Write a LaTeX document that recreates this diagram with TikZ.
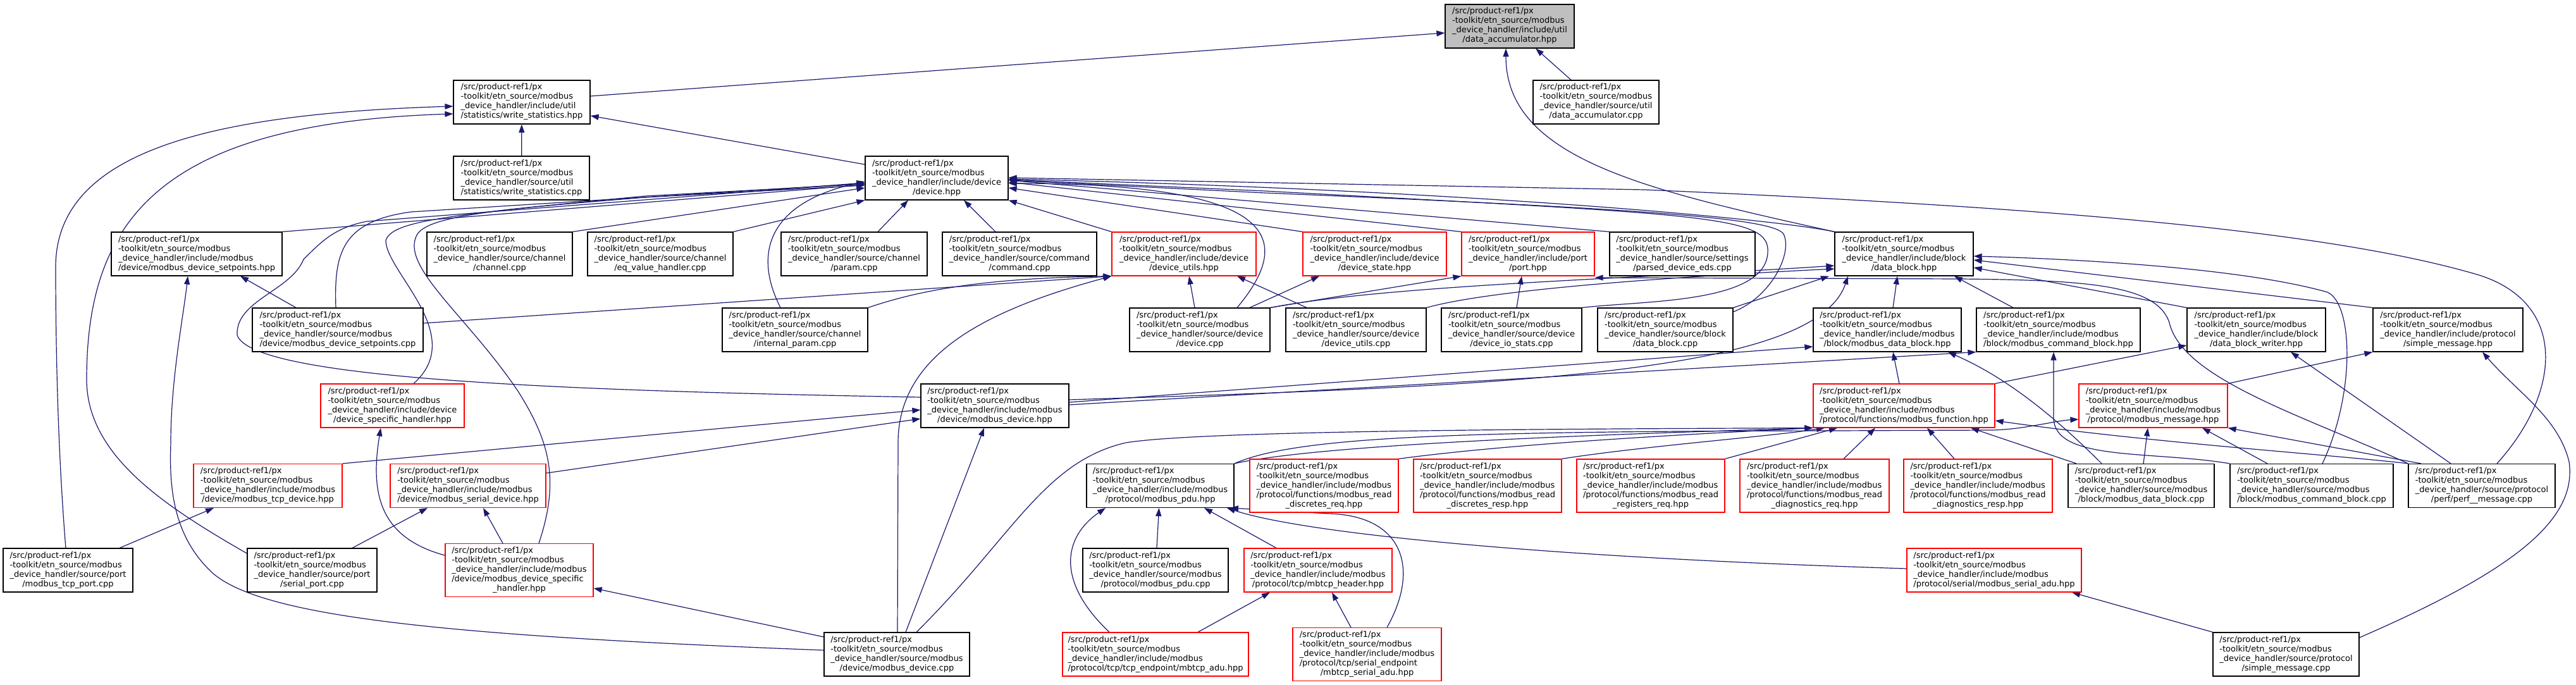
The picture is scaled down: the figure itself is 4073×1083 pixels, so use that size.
\documentclass[tikz,border=0pt]{standalone}
\usepackage{fontspec}
\newfontfamily\dvs{DejaVu Sans}
\usetikzlibrary{arrows.meta,calc}
\definecolor{edgeblue}{RGB}{25,25,112}
\definecolor{boxgray}{RGB}{191,191,191}
\pgfdeclarelayer{back}\pgfdeclarelayer{edges}
\pgfsetlayers{back,edges,main}
\newcommand\Hinc{\_device\_handler/include}
\newcommand\Hsrc{\_device\_handler/source}
\newcommand\Lf[2]{\begin{tabular}{@{}l@{}}/src/product-ref1/px\\-toolkit/etn\_source/modbus\\#1\\\multicolumn{1}{@{}c@{}}{#2}\end{tabular}}
\newcommand\Lv[3]{\begin{tabular}{@{}l@{}}/src/product-ref1/px\\-toolkit/etn\_source/modbus\\#1\\#2\\\multicolumn{1}{@{}c@{}}{#3}\end{tabular}}
\begin{document}
\begin{tikzpicture}[x=1pt,y=-1pt,
  box/.style={draw=black, fill=white, line width=1.2pt, inner sep=0pt, minimum height=69pt,
    font=\dvs\fontsize{13}{15}\selectfont, text=black},
  rbox/.style={box, draw=red},
  vbox/.style={rbox, minimum height=84pt},
  gbox/.style={box, fill=boxgray},
  edge/.style={draw=edgeblue, line width=1.2pt, -{Triangle[length=13pt,width=9pt]}}]
\begin{pgfonlayer}{back}
\fill[white] (0,0) rectangle (4073,1083);
\end{pgfonlayer}
\useasboundingbox (0,0) rectangle (4073,1083);
% row 1-3
\node[gbox, minimum width=204pt] (DA) at (2387,41.5) {\Lf{\Hinc/util}{/data\_accumulator.hpp}};
\node[box, minimum width=216pt] (WS) at (825,161.5) {\Lf{\Hinc/util}{/statistics/write\_statistics.hpp}};
\node[box, minimum width=199pt] (DAcpp) at (2523.5,161.5) {\Lf{\Hsrc/util}{/data\_accumulator.cpp}};
\node[box, minimum width=215pt] (WScpp) at (824.5,281.5) {\Lf{\Hsrc/util}{/statistics/write\_statistics.cpp}};
\node[box, minimum width=226pt] (DEV) at (1481,281.5) {\Lf{\Hinc/device}{/device.hpp}};
% row 4
\node[box, minimum width=270pt] (MDSP) at (311,401.5) {\Lf{\Hinc/modbus}{/device/modbus\_device\_setpoints.hpp}};
\node[box, minimum width=230pt] (CHAN) at (790,401.5) {\Lf{\Hsrc/channel}{/channel.cpp}};
\node[box, minimum width=230pt] (EQV) at (1044,401.5) {\Lf{\Hsrc/channel}{/eq\_value\_handler.cpp}};
\node[box, minimum width=231pt] (PARAM) at (1350.5,401.5) {\Lf{\Hsrc/channel}{/param.cpp}};
\node[box, minimum width=244pt] (CMD) at (1612,401.5) {\Lf{\Hsrc/command}{/command.cpp}};
\node[rbox, minimum width=228pt] (DUH) at (1872,401.5) {\Lf{\Hinc/device}{/device\_utils.hpp}};
\node[rbox, minimum width=227pt] (DSTATE) at (2173.5,401.5) {\Lf{\Hinc/device}{/device\_state.hpp}};
\node[rbox, minimum width=210pt] (PORT) at (2416,401.5) {\Lf{\Hinc/port}{/port.hpp}};
\node[box, minimum width=230pt] (PDE) at (2660,401.5) {\Lf{\Hsrc/settings}{/parsed\_device\_eds.cpp}};
\node[box, minimum width=219pt] (DB) at (3010.5,401.5) {\Lf{\Hinc/block}{/data\_block.hpp}};
% row 5
\node[box, minimum width=270pt] (MDSPcpp) at (534,521.5) {\Lf{\Hsrc/modbus}{/device/modbus\_device\_setpoints.cpp}};
\node[box, minimum width=230pt] (IPARAM) at (1257,521.5) {\Lf{\Hsrc/channel}{/internal\_param.cpp}};
\node[box, minimum width=222pt] (DEVcpp) at (1897,521.5) {\Lf{\Hsrc/device}{/device.cpp}};
\node[box, minimum width=222pt] (DUcpp) at (2144,521.5) {\Lf{\Hsrc/device}{/device\_utils.cpp}};
\node[box, minimum width=222pt] (DIOS) at (2390,521.5) {\Lf{\Hsrc/device}{/device\_io\_stats.cpp}};
\node[box, minimum width=214pt] (DBcpp) at (2633,521.5) {\Lf{\Hsrc/block}{/data\_block.cpp}};
\node[box, minimum width=234pt] (MDBH) at (2984,521.5) {\Lf{\Hinc/modbus}{/block/modbus\_data\_block.hpp}};
\node[box, minimum width=259pt] (MCBH) at (3254.5,521.5) {\Lf{\Hinc/modbus}{/block/modbus\_command\_block.hpp}};
\node[box, minimum width=219pt] (DBW) at (3567.5,521.5) {\Lf{\Hinc/block}{/data\_block\_writer.hpp}};
\node[box, minimum width=237pt] (SMH) at (3870.5,521.5) {\Lf{\Hinc/protocol}{/simple\_message.hpp}};
% row 6
\node[rbox, minimum width=227pt] (DSH) at (620.5,641.5) {\Lf{\Hinc/device}{/device\_specific\_handler.hpp}};
\node[box, minimum width=234pt] (MDEV) at (1573,641.5) {\Lf{\Hinc/modbus}{/device/modbus\_device.hpp}};
\node[rbox, minimum width=287pt] (MFUNC) at (3010.5,641.5) {\Lf{\Hinc/modbus}{/protocol/functions/modbus\_function.hpp}};
\node[rbox, minimum width=235pt] (MMSG) at (3404.5,641.5) {\Lf{\Hinc/modbus}{/protocol/modbus\_message.hpp}};
% row 7
\node[rbox, minimum width=235pt] (TCPD) at (423.5,768) {\Lf{\Hinc/modbus}{/device/modbus\_tcp\_device.hpp}};
\node[rbox, minimum width=246pt] (SERD) at (740,768) {\Lf{\Hinc/modbus}{/device/modbus\_serial\_device.hpp}};
\node[box, minimum width=233pt] (PDU) at (1834.5,768) {\Lf{\Hinc/modbus}{/protocol/modbus\_pdu.hpp}};
\node[vbox, minimum width=235pt] (RDREQ) at (2093.5,768) {\Lv{\Hinc/modbus}{/protocol/functions/modbus\_read}{\_discretes\_req.hpp}};
\node[vbox, minimum width=234pt] (RDRESP) at (2352,768) {\Lv{\Hinc/modbus}{/protocol/functions/modbus\_read}{\_discretes\_resp.hpp}};
\node[vbox, minimum width=234pt] (RRREQ) at (2610,768) {\Lv{\Hinc/modbus}{/protocol/functions/modbus\_read}{\_registers\_req.hpp}};
\node[vbox, minimum width=236pt] (RDGREQ) at (2869,768) {\Lv{\Hinc/modbus}{/protocol/functions/modbus\_read}{\_diagnostics\_req.hpp}};
\node[vbox, minimum width=235pt] (RDGRESP) at (3127.5,768) {\Lv{\Hinc/modbus}{/protocol/functions/modbus\_read}{\_diagnostics\_resp.hpp}};
\node[box, minimum width=231pt] (MDBcpp) at (3385.5,768) {\Lf{\Hsrc/modbus}{/block/modbus\_data\_block.cpp}};
\node[box, minimum width=258pt] (MCBcpp) at (3655,768) {\Lf{\Hsrc/modbus}{/block/modbus\_command\_block.cpp}};
\node[box, minimum width=232pt] (PERF) at (3924,768) {\Lf{\Hsrc/protocol}{/perf/perf\_\_message.cpp}};
% row 8
\node[box, minimum width=205pt] (TCPPORT) at (107.5,901.5) {\Lf{\Hsrc/port}{/modbus\_tcp\_port.cpp}};
\node[box, minimum width=205pt] (SERPORT) at (493.5,901.5) {\Lf{\Hsrc/port}{/serial\_port.cpp}};
\node[vbox, minimum width=234pt] (MDSHH) at (821,901.5) {\Lv{\Hinc/modbus}{/device/modbus\_device\_specific}{\_handler.hpp}};
\node[box, minimum width=230pt] (PDUcpp) at (1827,901.5) {\Lf{\Hsrc/modbus}{/protocol/modbus\_pdu.cpp}};
\node[rbox, minimum width=234pt] (TCPH) at (2084,901.5) {\Lf{\Hinc/modbus}{/protocol/tcp/mbtcp\_header.hpp}};
\node[rbox, minimum width=276pt] (SADU) at (3153,901.5) {\Lf{\Hinc/modbus}{/protocol/serial/modbus\_serial\_adu.hpp}};
% row 9
\node[box, minimum width=230pt] (MDEVcpp) at (1418,1034.5) {\Lf{\Hsrc/modbus}{/device/modbus\_device.cpp}};
\node[rbox, minimum width=294pt] (TCPADU) at (1827,1034.5) {\Lf{\Hinc/modbus}{/protocol/tcp/tcp\_endpoint/mbtcp\_adu.hpp}};
\node[vbox, minimum width=235pt] (SERADU) at (2161.5,1034.5) {\Lv{\Hinc/modbus}{/protocol/tcp/serial\_endpoint}{/mbtcp\_serial\_adu.hpp}};
\node[box, minimum width=231pt] (SMcpp) at (3614.5,1034.5) {\Lf{\Hsrc/protocol}{/simple\_message.cpp}};

\begin{pgfonlayer}{edges}
% to DA
\draw[edge] (WS.east |- 0,152) -- (DA.west |- 0,52);
\draw[edge] (DAcpp.north -| 2484,0) -- (DA.south -| 2428,0);
\draw[edge] (DB.north west) .. controls (2600,300) and (2381,250) .. (DA.south -| 2381,0);
% to WS
\draw[edge] (WScpp) -- (WS);
\draw[edge] (DEV.west |- 0,260) -- (WS.east |- 0,183);
\draw[edge] (TCPPORT.north -| 104,0) .. controls (92,720) and (88,560) .. (88,420) .. controls (90,240) and (330,180) .. (WS.west |- 0,168);
\draw[edge] (SERPORT.west |- 0,875) .. controls (260,800) and (137,720) .. (137,600) .. controls (137,350) and (250,195) .. (WS.west |- 0,180);
% to DEV
\draw[edge] (MDSP.north east) -- (DEV.west |- 0,292);
\draw[edge] (CHAN.north east) -- (DEV.west |- 0,297);
\draw[edge] (EQV.north east) -- (DEV.south west);
\draw[edge] (PARAM.north -| 1388,0) -- (DEV.south -| 1436,0);
\draw[edge] (CMD.north -| 1574,0) -- (DEV.south -| 1524,0);
\draw[edge] (DUH.north west) -- (DEV.south east);
\draw[edge] (DSTATE.north west) -- (DEV.east |- 0,297);
\draw[edge] (PORT.north west) -- (DEV.east |- 0,288);
\draw[edge] (PDE.north west) -- (DEV.east |- 0,285);
\draw[edge] (DB.north west) .. controls (2800,345) and (2300,300) .. (DEV.east |- 0,283);
\draw[edge] (PERF.north -| 3948,0) .. controls (4050,620) and (4060,480) .. (3920,435) .. controls (3700,370) and (3300,330) .. (2600,300) -- (DEV.east |- 0,281);
\draw[edge] (MDSPcpp.north -| 531,0) .. controls (528,400) and (540,350) .. (650,335) -- (DEV.west |- 0,290);
\draw[edge] (MDEV.west |- 0,628) .. controls (900,618) and (400,600) .. (375,530) .. controls (372,475) and (460,460) .. (480,410) .. controls (510,380) and (530,360) .. (580,350) -- (DEV.west |- 0,289);
\draw[edge] (DSH.north -| 654,0) .. controls (740,530) and (610,430) .. (610,380) .. controls (620,350) and (700,340) .. (1020,310) -- (DEV.west |- 0,291);
\draw[edge] (MDSHH.north -| 852,0) .. controls (885,760) and (870,700) .. (820,620) .. controls (740,500) and (630,420) .. (660,370) .. controls (680,340) and (800,330) .. (1020,312) -- (DEV.west |- 0,293);
\draw[edge] (IPARAM.north -| 1234,0) .. controls (1190,400) and (1215,320) .. (DEV.west |- 0,287);
\draw[edge] (DEVcpp.north -| 1956,0) .. controls (2045,380) and (2030,290) .. (DEV.east |- 0,290);
\draw[edge] (DIOS.north east) .. controls (2600,475) and (2790,480) .. (2795,400) .. controls (2800,340) and (2700,340) .. (2000,302) -- (DEV.east |- 0,284);
\draw[edge] (DBcpp.east |- 0,493) .. controls (2800,470) and (2835,400) .. (2820,370) .. controls (2805,345) and (2600,330) .. (2000,305) -- (DEV.east |- 0,285);
% to DUH, DSTATE, PORT
\draw[edge] (DUcpp.north -| 2066,0) -- (DUH.south -| 1956,0);
\draw[edge] (DEVcpp.north -| 1889,0) -- (DUH.south -| 1880,0);
\draw[edge] (MDSPcpp.east |- 0,511) -- (DUH.south west);
\draw[edge] (IPARAM.north east) .. controls (1450,460) and (1550,440) .. (DUH.south west);
\draw[edge] (MDEVcpp.north -| 1419,0) -- (1420,700) .. controls (1420,560) and (1560,490) .. (DUH.south west);
\draw[edge] (DEVcpp.north -| 1976,0) -- (DSTATE.south -| 2086,0);
\draw[edge] (DIOS.north -| 2398,0) -- (PORT.south -| 2406,0);
\draw[edge] (DEVcpp.north east) -- (PORT.south west);
\draw[edge] (PERF.north west) .. controls (3650,660) and (3450,600) .. (3430,510) .. controls (3410,450) and (3300,443) .. (3100,441) -- (PORT.east |- 0,439);
% to DB
\draw[edge] (DBcpp.north east) -- (DB.south -| 2892,0);
\draw[edge] (DUcpp.north east) .. controls (2350,460) and (2600,440) .. (DB.west |- 0,425);
\draw[edge] (DEVcpp.north east) .. controls (2200,450) and (2600,440) .. (DB.west |- 0,420);
\draw[edge] (MDBH.north -| 2993,0) -- (DB.south -| 3000,0);
\draw[edge] (MCBH.north -| 3183,0) -- (DB.south -| 3090,0);
\draw[edge] (DBW.north west) -- (DB.east |- 0,423);
\draw[edge] (SMH.north west) -- (DB.east |- 0,411);
\draw[edge] (MCBcpp.north -| 3672,0) .. controls (3725,620) and (3720,480) .. (3680,462) .. controls (3550,425) and (3300,410) .. (DB.east |- 0,405);
\draw[edge] (MDEV.east |- 0,632) .. controls (2400,610) and (2870,590) .. (DB.south -| 2922,0);
% MDEV
\draw[edge] (MDEV.east |- 0,636) -- (MDBH.west |- 0,548);
\draw[edge] (MDEV.east |- 0,640) -- (MCBH.south west);
% MFUNC
\draw[edge] (MFUNC.north -| 3003,0) -- (MDBH.south -| 2993,0);
\draw[edge] (MFUNC.north east) -- (DBW.west |- 0,546);
\draw[edge] (RDREQ.north east) .. controls (2400,700) and (2700,685) .. (MFUNC.south west);
\draw[edge] (RDRESP.north east) .. controls (2600,705) and (2800,690) .. (MFUNC.south -| 2885,0);
\draw[edge] (RRREQ.north east) -- (MFUNC.south -| 2905,0);
\draw[edge] (RDGREQ.north -| 2915,0) -- (MFUNC.south -| 2965,0);
\draw[edge] (RDGRESP.north -| 3090,0) -- (MFUNC.south -| 3047,0);
\draw[edge] (MDBcpp.north -| 3283,0) -- (MFUNC.south -| 3116,0);
\draw[edge] (PERF.north west) .. controls (3700,720) and (3400,700) .. (MFUNC.east |- 0,665);
\draw[edge] (PDU.north east) .. controls (2100,700) and (2600,685) .. (MFUNC.south west);
\draw[edge] (MDEVcpp.north -| 1449,0) .. controls (1600,850) and (1650,730) .. (1780,700) .. controls (1900,680) and (2500,678) .. (MFUNC.south west);
% MMSG
\draw[edge] (PDU.north east) .. controls (2050,690) and (2300,682) .. (2900,681) -- (3150,680) .. controls (3200,679) and (3250,665) .. (MMSG.west |- 0,663);
\draw[edge] (MMSG.north east) -- (SMH.south west);
\draw[edge] (MDBcpp.north -| 3389,0) -- (MMSG.south -| 3396,0);
\draw[edge] (MCBcpp.north -| 3585,0) -- (MMSG.south -| 3482,0);
\draw[edge] (PERF.north -| 3828,0) -- (MMSG.south east);
% MDBH, MCBH, DBW, SMH
\draw[edge] (MDBcpp.north -| 3323,0) .. controls (3260,670) and (3180,600) .. (MDBH.south -| 3080,0);
\draw[edge] (MCBcpp.north west) .. controls (3400,712) and (3247,730) .. (3247,660) -- (MCBH.south -| 3247,0);
\draw[edge] (PERF.north -| 3875,0) -- (DBW.south -| 3622,0);
\draw[edge] (SMcpp.east |- 0,1008) .. controls (3980,900) and (4075,820) .. (4062,730) .. controls (4045,660) and (3980,620) .. (SMH.south -| 3925,0);
\draw[edge] (SMcpp.north west) -- (SADU.south -| 3276,0);
% PDU
\draw[edge] (SADU.west |- 0,899) .. controls (2400,880) and (2050,840) .. (PDU.south -| 1940,0);
\draw[edge] (SERADU.north -| 2193,0) .. controls (2245,900) and (2220,815) .. (2100,812) -- (PDU.south -| 1945,0);
\draw[edge] (TCPH.north -| 2018,0) -- (PDU.south -| 1904,0);
\draw[edge] (PDUcpp) -- (PDU);
\draw[edge] (TCPADU.north -| 1754,0) .. controls (1670,920) and (1680,850) .. (PDU.south -| 1748,0);
\draw[edge] (TCPADU.north -| 1894,0) -- (TCPH.south -| 2008,0);
\draw[edge] (SERADU.north -| 2136,0) -- (TCPH.south -| 2106,0);
% MDEVcpp
\draw[edge] (MDEVcpp.north -| 1432,0) -- (MDEV.south -| 1556,0);
\draw[edge] (MDEVcpp.west |- 0,1007) -- (MDSHH.east |- 0,930);
\draw[edge] (MDEVcpp.west |- 0,1028) .. controls (700,1005) and (400,975) .. (330,900) .. controls (270,840) and (268,760) .. (270,700) .. controls (270,600) and (290,500) .. (MDSP.south -| 297,0);
\draw[edge] (MDSPcpp.north -| 468,0) -- (MDSP.south -| 380,0);
% TCPD, SERD, DSH
\draw[edge] (TCPD.north east) -- (MDEV.west |- 0,648);
\draw[edge] (TCPPORT.north -| 189,0) -- (TCPD.south -| 338,0);
\draw[edge] (SERD.east |- 0,748) -- (MDEV.west |- 0,662);
\draw[edge] (SERPORT.north -| 557,0) -- (SERD.south -| 676,0);
\draw[edge] (MDSHH.north -| 795,0) -- (SERD.south -| 764,0);
\draw[edge] (MDSHH.west |- 0,878) .. controls (600,850) and (585,780) .. (DSH.south -| 602,0);
\end{pgfonlayer}
\end{tikzpicture}
\end{document}
